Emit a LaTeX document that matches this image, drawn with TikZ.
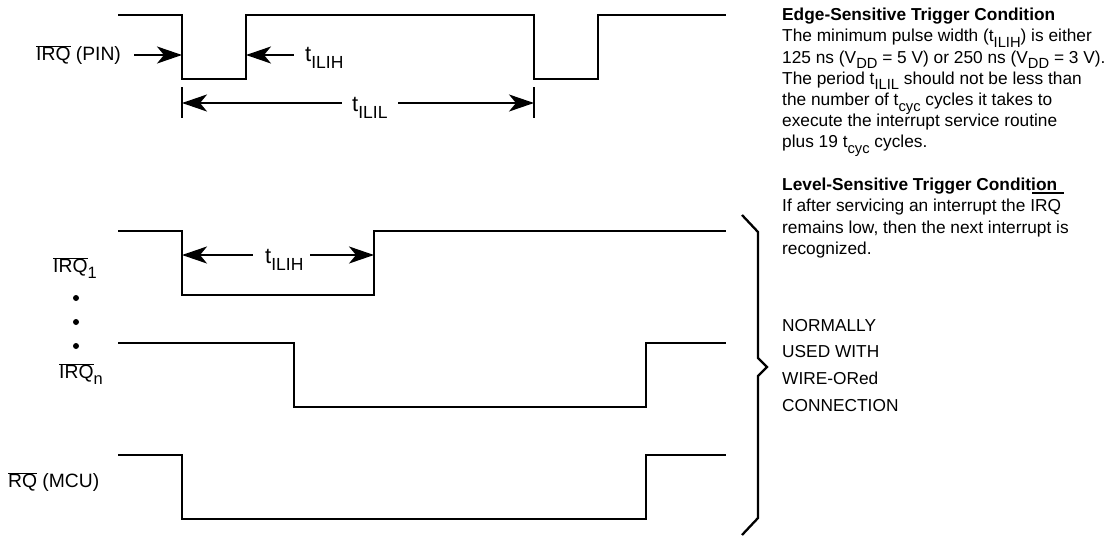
\documentclass[tikz,border=0pt]{standalone}
\usepackage{fontspec}
\setmainfont{Liberation Sans}
\usetikzlibrary{arrows.meta}
\newcommand{\ovl}[1]{$\overline{\hbox{#1}}$}
\newcommand{\sbs}[1]{\raisebox{-0.32em}{\scalebox{0.85}{#1}}}
\newcommand{\tsb}[1]{{\fontsize{22}{24}\selectfont t}\raisebox{-7pt}{\fontsize{17.5}{20}\selectfont #1}}
\tikzset{
  wave/.style={line width=2.3pt,line join=miter},
  dim/.style={line width=2.3pt,{Stealth[length=25pt,width=17pt,inset=7pt]}-},
  lab/.style={inner sep=0pt,anchor=west,font=\fontsize{19.3}{23}\selectfont},
  note/.style={inner sep=0pt,anchor=north west,align=left,font=\fontsize{17.3}{21.2}\selectfont}
}
\begin{document}
\begin{tikzpicture}[x=1pt,y=-1pt]
\useasboundingbox (0,0) rectangle (1108,536);
\draw[wave] (118,15) -- (182,15) -- (182,79) -- (246,79) -- (246,15) -- (534,15) -- (534,79) -- (598,79) -- (598,15) -- (726,15); % pin row
\draw[wave] (118,231) -- (182,231) -- (182,295) -- (374,295) -- (374,231) -- (726,231); % irq1 row
\draw[wave] (118,343) -- (294,343) -- (294,407) -- (646,407) -- (646,343) -- (726,343); % irqn row
\draw[wave] (118,455) -- (182,455) -- (182,519) -- (646,519) -- (646,455) -- (726,455); % mcu row
\draw[wave] (182,87) -- (182,118);
\draw[wave] (534,87) -- (534,118);
\draw[wave] (742,215) -- (758,232) -- (758,358) -- (767,367) -- (758,376) -- (758,518) -- (742,535); % brace
\node[lab] (pin) at (36,55) {\ovl{IRQ} (PIN)};
\node[lab] (irq1) at (53,268) {\ovl{IRQ}\sbs{1}};
\node[lab] (irqn) at (59,374) {\ovl{IRQ}\sbs{n}};
\node[lab] (mcu) at (8,482) {\ovl{RQ} (MCU)};
\fill (76,298) circle (3pt);
\fill (76,322) circle (3pt);
\fill (76,346) circle (3pt);
\coordinate (fall) at (182,55);
\coordinate (rise) at (246,55);
\coordinate (fromleft) at (134,55);
\coordinate (fromright) at (294,55);
\draw[dim] (fall) -- (fromleft);
\draw[dim] (rise) -- (fromright);
\node[lab] (width) at (305,58) {\tsb{ILIH}};
\coordinate (per1) at (182,103);
\coordinate (per2) at (534,103);
\coordinate (perl) at (342,103);
\coordinate (perr) at (398,103);
\node[lab] (period) at (352,108) {\tsb{ILIL}};
\draw[dim] (per1) -- (perl);
\draw[dim] (per2) -- (perr);
\coordinate (low1) at (182,255);
\coordinate (low2) at (374,255);
\coordinate (lowl) at (253,255);
\coordinate (lowr) at (310,255);
\node[lab] (lowwidth) at (265,260) {\tsb{ILIH}};
\draw[dim] (low1) -- (lowl);
\draw[dim] (low2) -- (lowr);
\node[note] (edge) at (782,8) {\textbf{Edge-Sensitive Trigger Condition}\\
The minimum pulse width (t\sbs{ILIH}) is either\\
125 ns (V\sbs{DD} = 5 V) or 250 ns (V\sbs{DD} = 3 V).\\
The period t\sbs{ILIL} should not be less than\\
the number of t\sbs{cyc} cycles it takes to\\
execute the interrupt service routine\\
plus 19 t\sbs{cyc} cycles.};
\node[note] (level) at (782,178) {\textbf{Level-Sensitive Trigger Condition}\\
If after servicing an interrupt the IRQ\\
remains low, then the next interrupt is\\
recognized.};
\draw[line width=1.2pt] (1032,193) -- (1064,193); % bar over irq
\node[note,font=\fontsize{17.3}{26.7}\selectfont] (wired) at (782,319) {NORMALLY\\USED WITH\\WIRE-ORed\\CONNECTION};
\end{tikzpicture}
\end{document}
